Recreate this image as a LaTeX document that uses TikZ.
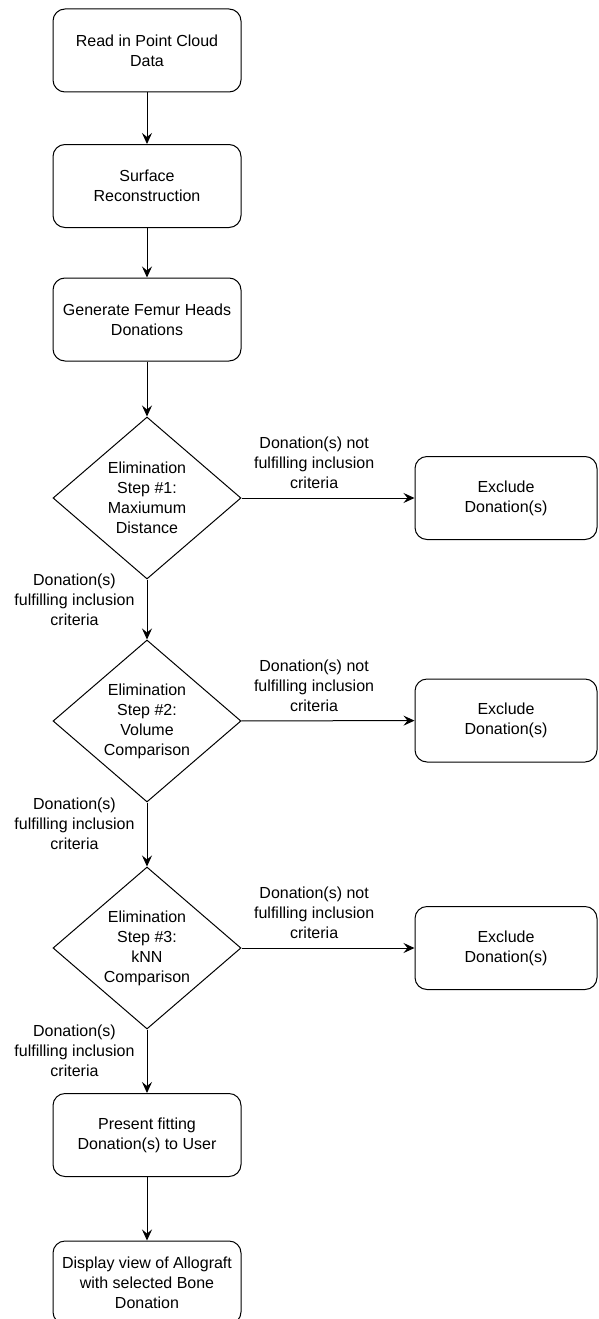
\documentclass[tikz,border=0pt]{standalone}
\usepackage{fontspec}
\setmainfont{Liberation Sans}
\usetikzlibrary{shapes.geometric,arrows.meta}

\tikzset{
  stepbox/.style={draw, rectangle, rounded corners=12pt, minimum width=188pt, minimum height=83pt, align=center, inner sep=2pt},
  exclbox/.style={stepbox, minimum width=182pt},
  decision/.style={draw, diamond, aspect=1.16, minimum width=188pt, minimum height=162pt, align=center, inner sep=0pt},
  arr/.style={-{Stealth[length=11pt,width=10pt,inset=4pt]}},
  lbl/.style={align=center, inner sep=2pt}
}

\begin{document}
\begin{tikzpicture}[x=1pt, y=-1pt, line width=1pt, font=\fontsize{16}{20}\selectfont]
  \useasboundingbox (0,0) rectangle (598,1319);
  \clip (0,0) rectangle (598,1319);
  % main column
  \node[stepbox] (read) at (147,50.5) {Read in Point Cloud\\Data};
  \node[stepbox] (surf) at (147,186) {Surface\\Reconstruction};
  \node[stepbox] (femur) at (147,319.5) {Generate Femur Heads\\Donations};
  \node[decision] (elimA) at (147,498) {Elimination\\Step \#1:\\Maxiumum\\Distance};
  \node[decision] (elimB) at (147,721) {Elimination\\Step \#2:\\Volume\\Comparison};
  \node[decision] (elimC) at (147,948) {Elimination\\Step \#3:\\kNN\\Comparison};
  \node[stepbox] (present) at (147,1135) {Present fitting\\Donation(s) to User};
  \node[stepbox] (display) at (147,1282.5) {Display view of Allograft\\with selected Bone\\Donation};
  % excluded donations
  \node[exclbox] (exclA) at (506,498) {Exclude\\Donation(s)};
  \node[exclbox] (exclB) at (506,720.5) {Exclude\\Donation(s)};
  \node[exclbox] (exclC) at (506,948) {Exclude\\Donation(s)};

  \draw[arr] (read) -- (surf);
  \draw[arr] (surf) -- (femur);
  \draw[arr] (femur) -- (elimA);
  \draw[arr] (elimA) -- (elimB) node[lbl, left=10pt, pos=0.34]{Donation(s)\\fulfilling inclusion\\criteria};
  \draw[arr] (elimB) -- (elimC) node[lbl, left=10pt, pos=0.34]{Donation(s)\\fulfilling inclusion\\criteria};
  \draw[arr] (elimC) -- (present) node[lbl, left=10pt, pos=0.34]{Donation(s)\\fulfilling inclusion\\criteria};
  \draw[arr] (present) -- (display);
  \draw[arr] (elimA) -- (exclA) node[lbl, above=7pt, pos=0.42]{Donation(s) not\\fulfilling inclusion\\criteria};
  \draw[arr] (elimB) -- (exclB) node[lbl, above=7pt, pos=0.42]{Donation(s) not\\fulfilling inclusion\\criteria};
  \draw[arr] (elimC) -- (exclC) node[lbl, above=7pt, pos=0.42]{Donation(s) not\\fulfilling inclusion\\criteria};
\end{tikzpicture}
\end{document}
